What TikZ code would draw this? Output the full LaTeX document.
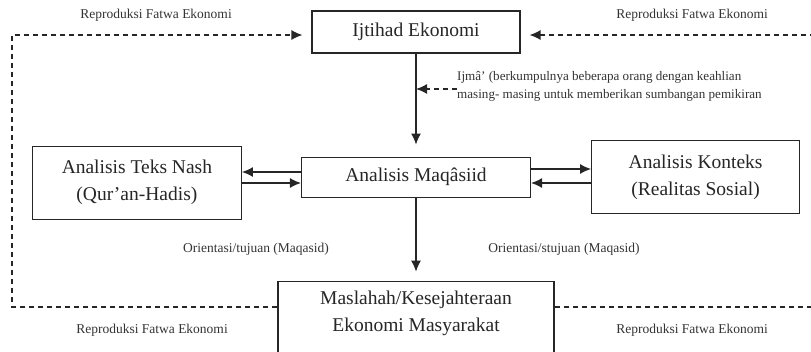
\documentclass[tikz,border=0pt]{standalone}
\usepackage{fontspec}
\setmainfont{Liberation Serif}
\usetikzlibrary{arrows.meta, positioning}
\tikzset{
    box/.style={draw=black!85, line width=1.1pt, fill=white, align=center, text=black!85, font=\fontsize{19.5}{27}\selectfont},
    arrow/.style={-{Latex[length=11pt,width=10pt]}, line width=1.3pt, black!85},
    dasharrow/.style={-{Latex[length=11pt,width=10pt]}, dash pattern=on 5pt off 4pt, line width=1.3pt, black!85},
    dashline/.style={dash pattern=on 5pt off 4pt, line width=1.3pt, black!85},
    lbl/.style={text=black!80, font=\fontsize{13.5}{18}\selectfont, align=left, inner sep=0pt}
}

\begin{document}
\begin{tikzpicture}[x=1pt, y=-1pt, node distance=1cm]
        \useasboundingbox (0,0) rectangle (811,351);
        % boxes
        \node [box, minimum width=208pt, minimum height=42pt] (ijtihad) at (416,32) {Ijtihad Ekonomi};
        \node [box, minimum width=229pt, minimum height=40pt, below=103pt of ijtihad] (maqasid) {Analisis Maqâsiid};
        \node [box, minimum width=209pt, minimum height=73pt, left=59pt of maqasid, yshift=-5.5pt] (teks) {Analisis Teks Nash\\(Qur’an-Hadis)};
        \node [box, minimum width=208pt, minimum height=73pt, right=60pt of maqasid] (konteks) {Analisis Konteks\\(Realitas Sosial)};
        \node [box, minimum width=276pt, below=83pt of maqasid, inner ysep=10pt, text depth=40pt] (maslahah) {Maslahah/Kesejahteraan\\Ekonomi Masyarakat};
        % labels
        \node [lbl, anchor=west, font=\fontsize{13.1}{18}\selectfont] (ijma) at (457,86) {Ijmâ’ (berkumpulnya beberapa orang dengan keahlian\\masing- masing untuk memberikan sumbangan pemikiran};
        \node [lbl] (rep1) at (156,15) {Reproduksi Fatwa Ekonomi};
        \node [lbl] (rep2) at (692,15) {Reproduksi Fatwa Ekonomi};
        \node [lbl] (rep3) at (152,330) {Reproduksi Fatwa Ekonomi};
        \node [lbl] (rep4) at (692,330) {Reproduksi Fatwa Ekonomi};
        \node [lbl] (ori1) at (256,249) {Orientasi/tujuan (Maqasid)};
        \node [lbl] (ori2) at (564,249) {Orientasi/stujuan (Maqasid)};
        \coordinate (lcorner) at (12,35);
        \coordinate (rtop) at (815,35);
        \coordinate (rbot) at (815,307);
        % arrows
        \draw [arrow, shorten >=12pt] (ijtihad.south) -- (maqasid.north);
        \draw [dasharrow] ([yshift=-3pt]ijma.west) -- ([yshift=-3pt]ijma.west -| ijtihad.south);
        \draw [arrow] (maqasid.west |- 0,172) -- (teks.east |- 0,172);
        \draw [arrow] (teks.east |- 0,183) -- (maqasid.west |- 0,183);
        \draw [arrow] (maqasid.east |- 0,169) -- (konteks.west |- 0,169);
        \draw [arrow] (konteks.west |- 0,183) -- (maqasid.east |- 0,183);
        \draw [arrow, shorten >=9pt] (maqasid.south) -- (maslahah.north);
        % reproduksi loops
        \draw [dasharrow, shorten >=9pt] (maslahah.west |- rbot) -| (lcorner) -- (ijtihad.west |- lcorner);
        \draw [dasharrow, shorten >=9pt] (rtop) -- (ijtihad.east |- rtop);
        \draw [dashline] (maslahah.east |- rbot) -- (rbot);
    \end{tikzpicture}
\end{document}
